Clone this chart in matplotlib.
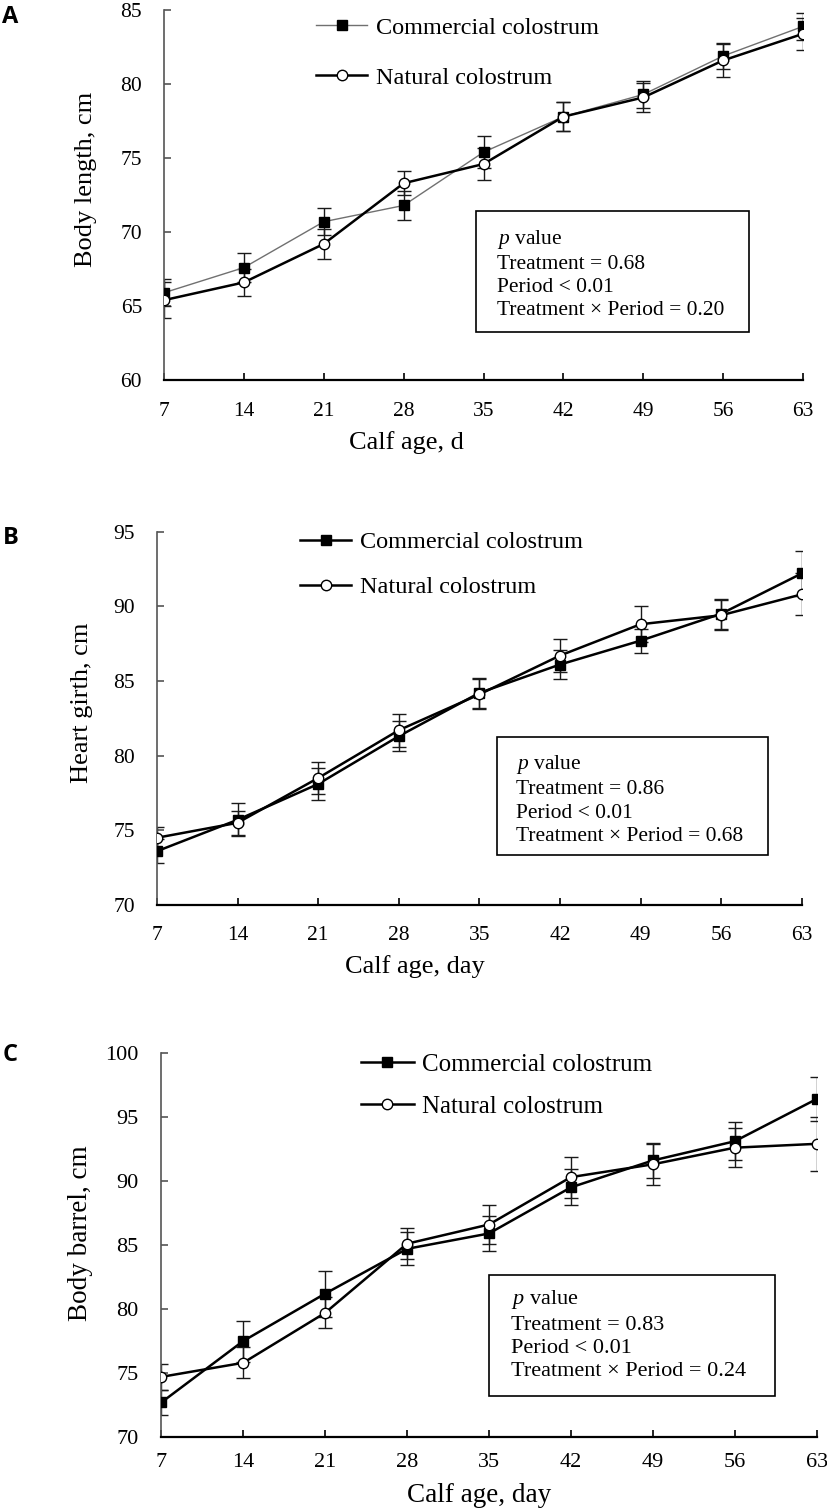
"""Calf growth: body length, heart girth and body barrel by colostrum source."""

import matplotlib.pyplot as plt
from matplotlib.patches import Rectangle

days = [7, 14, 21, 28, 35, 42, 49, 56, 63]
series_names = ["Commercial colostrum", "Natural colostrum"]

# A - body length, cm
length_comm = [65.9, 67.6, 70.7, 71.8, 75.4, 77.8, 79.3, 81.9, 83.9]
length_comm_se = [0.9, 1.0, 0.9, 1.0, 1.1, 1.0, 0.9, 0.9, 0.9]
length_nat = [65.4, 66.6, 69.2, 73.3, 74.6, 77.8, 79.1, 81.6, 83.4]
length_nat_se = [1.2, 0.9, 1.0, 0.8, 1.1, 1.0, 1.0, 1.1, 1.1]

# B - heart girth, cm
girth_comm = [73.6, 75.7, 78.1, 81.3, 84.2, 86.1, 87.7, 89.5, 92.2]
girth_comm_se = [0.8, 1.1, 1.1, 1.0, 1.0, 1.0, 0.8, 1.0, 1.5]
girth_nat = [74.5, 75.5, 78.5, 81.7, 84.1, 86.7, 88.8, 89.4, 90.8]
girth_nat_se = [0.7, 0.8, 1.1, 1.1, 1.0, 1.1, 1.2, 1.0, 1.4]

# C - body barrel, cm
barrel_comm = [72.7, 77.5, 81.2, 84.7, 85.9, 89.5, 91.6, 93.1, 96.4]
barrel_comm_se = [1.0, 1.6, 1.8, 1.3, 1.4, 1.4, 1.4, 1.5, 1.7]
barrel_nat = [74.7, 75.8, 79.7, 85.1, 86.6, 90.3, 91.3, 92.6, 92.9]
barrel_nat_se = [1.0, 1.2, 1.2, 1.2, 1.5, 1.6, 1.6, 1.5, 2.1]

p_text_a = "$p$ value\nTreatment = 0.68\nPeriod < 0.01\nTreatment \u00d7 Period = 0.20"
p_text_b = "$p$ value\nTreatment = 0.86\nPeriod < 0.01\nTreatment \u00d7 Period = 0.68"
p_text_c = "$p$ value\nTreatment = 0.83\nPeriod < 0.01\nTreatment \u00d7 Period = 0.24"

SERIF = "Liberation Serif"
plt.rcParams["font.family"] = [SERIF, "DejaVu Serif"]
plt.rcParams["mathtext.fontset"] = "custom"
plt.rcParams["mathtext.rm"] = SERIF
plt.rcParams["mathtext.it"] = SERIF + ":italic"


def draw_panel(ax, comm, comm_se, nat, nat_se, ylim, ylabel, xlabel, cfg):
    comm_color = cfg.get("comm_color", "black")
    comm_lw = cfg.get("comm_lw", 1.8)

    ax.errorbar(days, comm, yerr=comm_se, fmt="none", ecolor="#1a1a1a",
                elinewidth=1.0, capsize=5, capthick=1.0, zorder=2)
    ax.errorbar(days, nat, yerr=nat_se, fmt="none", ecolor="#1a1a1a",
                elinewidth=1.0, capsize=5, capthick=1.0, zorder=2)
    ax.plot(days, comm, color=comm_color, lw=comm_lw, marker="s", ms=7.5,
            mfc="black", mec="black", label=series_names[0], zorder=3)
    ax.plot(days, nat, color="black", lw=1.8, marker="o", ms=7.5,
            mfc="white", mec="black", mew=1.0, label=series_names[1], zorder=4)

    ax.set_xlim(7, 63)
    ax.set_ylim(*ylim)
    ax.set_xticks(days)
    ax.set_yticks(range(ylim[0], ylim[1] + 1, 5))
    for s in ("top", "right"):
        ax.spines[s].set_visible(False)
    ax.spines["left"].set_color("#555555")
    ax.spines["left"].set_linewidth(1.2)
    ax.spines["bottom"].set_linewidth(1.6)
    ax.tick_params(axis="x", direction="in", length=5, width=1.2,
                   pad=cfg["xpad"], labelsize=cfg["tick_fs"],
                   labelfontfamily=SERIF)
    ax.tick_params(axis="y", direction="in", length=5, width=1.2,
                   pad=cfg["ypad"], labelsize=cfg["tick_fs"], color="#555555",
                   labelfontfamily=SERIF)

    ax.set_xlabel(xlabel, fontsize=cfg["label_fs"], va="center")
    ax.xaxis.set_label_coords(*cfg["xlabel_pos"])
    ax.set_ylabel(ylabel, fontsize=cfg["label_fs"], va="center")
    ax.yaxis.set_label_coords(*cfg["ylabel_pos"])

    ax.legend(loc="upper left", bbox_to_anchor=cfg["legend_pos"], frameon=False,
              fontsize=cfg["legend_fs"], handlelength=2.1, handletextpad=0.35,
              labelspacing=cfg["legend_sp"], borderpad=0, borderaxespad=0)

    x0, y0, w, h = cfg["box"]
    ax.add_patch(Rectangle((x0, y0), w, h, transform=ax.transAxes, fill=False,
                           ec="black", lw=1.2, zorder=5))
    ax.text(cfg["ptext_pos"][0], cfg["ptext_pos"][1], cfg["ptext"],
            transform=ax.transAxes, ha="left", va="center",
            fontsize=cfg["p_fs"], linespacing=1.3, zorder=6)


fig = plt.figure(figsize=(8.27, 15.10), dpi=100)

ax_a = fig.add_axes([0.1983, 0.7483, 0.7727, 0.2450])
ax_b = fig.add_axes([0.1898, 0.4007, 0.7796, 0.2472])
ax_c = fig.add_axes([0.1950, 0.0483, 0.7925, 0.2544])

draw_panel(ax_a, length_comm, length_comm_se, length_nat, length_nat_se,
           (60, 85), "Body length, cm", "Calf age, d",
           dict(comm_color="#707070", comm_lw=1.0, xpad=15.5, ypad=15.8,
                tick_fs=15.5, label_fs=19, xlabel_pos=(0.380, -0.168),
                ylabel_pos=(-0.122, 0.543), legend_pos=(0.238, 0.982),
                legend_fs=17.5, legend_sp=1.15,
                box=(0.489, 0.129, 0.427, 0.328), ptext=p_text_a,
                ptext_pos=(0.521, 0.287), p_fs=15.5))

draw_panel(ax_b, girth_comm, girth_comm_se, girth_nat, girth_nat_se,
           (70, 95), "Heart girth, cm", "Calf age, day",
           dict(xpad=15.5, ypad=15.8, tick_fs=15.5, label_fs=19,
                xlabel_pos=(0.400, -0.165), ylabel_pos=(-0.117, 0.5425),
                legend_pos=(0.222, 1.0016), legend_fs=17.5, legend_sp=0.95,
                box=(0.527, 0.134, 0.421, 0.315), ptext=p_text_b,
                ptext_pos=(0.557, 0.2825), p_fs=15.5))

draw_panel(ax_c, barrel_comm, barrel_comm_se, barrel_nat, barrel_nat_se,
           (70, 100), "Body barrel, cm", "Calf age, day",
           dict(xpad=11.5, ypad=16.4, tick_fs=16, label_fs=19.5,
                xlabel_pos=(0.485, -0.152), ylabel_pos=(-0.123, 0.530),
                legend_pos=(0.305, 0.9987), legend_fs=18, legend_sp=0.79,
                box=(0.5006, 0.1067, 0.4364, 0.3161), ptext=p_text_c,
                ptext_pos=(0.534, 0.2664), p_fs=16))

for letter, y in (("A", 0.9887), ("B", 0.6437), ("C", 0.3015)):
    fig.text(0.003, y, letter, ha="left", va="center", fontsize=17,
             fontweight="bold", family="Open Sans")

fig.savefig("out.png", dpi=100)
